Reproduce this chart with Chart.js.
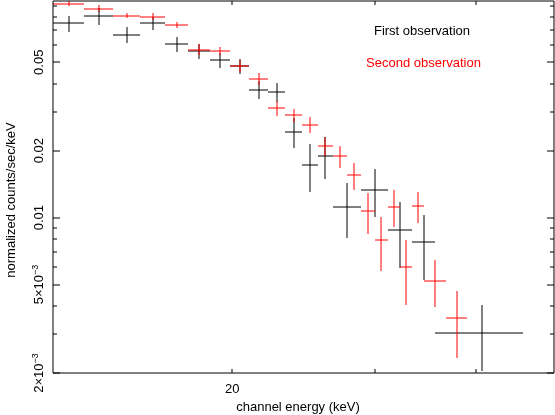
<!DOCTYPE html>
<html>
<head>
<meta charset="utf-8">
<script src="https://cdn.jsdelivr.net/npm/chart.js@4.4.0/dist/chart.umd.min.js"></script>
<style>
  html, body { margin: 0; padding: 0; background: #fff; }
</style>
</head>
<body>
<canvas id="spec" width="555" height="415"></canvas>
<script>
// channel bin edges (keV), rate and 1-sigma error for each observation
const firstEdges = [12, 13.125, 14.25, 15.375, 16.5, 17.625, 18.75, 19.875, 21, 22.125,
  23.25, 24.375, 25.5, 26.625, 28.875, 31.125, 33.375, 35.625, 45.75];
const firstRate = [0.0747, 0.0805, 0.0665, 0.0747, 0.0602, 0.0560, 0.0510, 0.0480, 0.0377,
  0.0368, 0.0243, 0.0172, 0.0190, 0.0112, 0.0133, 0.00884, 0.00775, 0.00304];
const firstErr = [0.0060, 0.0072, 0.0052, 0.0049, 0.0045, 0.0043, 0.0039, 0.0037, 0.0034,
  0.0037, 0.0037, 0.0042, 0.0041, 0.0031, 0.0032, 0.0029, 0.0025, 0.0010];

const secondEdges = [12, 13.125, 14.25, 15.375, 16.5, 17.625, 18.75, 19.875, 21, 22.125,
  23.25, 24.375, 25.5, 26.625, 27.75, 28.875, 30, 31.125, 32.25, 33.375, 34.5, 36.75, 39];
const secondRate = [0.0918, 0.0872, 0.0811, 0.0803, 0.0736, 0.0569, 0.0562, 0.0481, 0.0422,
  0.0311, 0.0289, 0.0262, 0.0210, 0.0189, 0.0155, 0.0107, 0.0079, 0.0112, 0.0060, 0.0113,
  0.0052, 0.00352];
const secondErr = [0.0026, 0.0030, 0.0023, 0.0028, 0.0025, 0.0032, 0.0024, 0.0030, 0.0025,
  0.0023, 0.0020, 0.0022, 0.0020, 0.0022, 0.0022, 0.00225, 0.00217, 0.0021, 0.00197, 0.0018,
  0.00123, 0.00118];

// axis ticks
const xTicks = [20, 30, 40];
const xTickLabels = [[20, "20"]];
const yTicks = [0.002, 0.003, 0.004, 0.005, 0.006, 0.007, 0.008, 0.009,
  0.01, 0.02, 0.03, 0.04, 0.05, 0.06, 0.07, 0.08, 0.09];
const yTickLabels = [[0.05, "0.05", ""], [0.02, "0.02", ""], [0.01, "0.01", ""],
  [0.005, "5×10", "−3"], [0.002, "2×10", "−3"]];

const FONT = '"Liberation Sans", Arial, sans-serif';

const series = [
  { label: "First observation", color: "#000000", edges: firstEdges, rate: firstRate, err: firstErr },
  { label: "Second observation", color: "#ff0000", edges: secondEdges, rate: secondRate, err: secondErr }
];

// bin centre (linear) for each channel
const toPoints = s => s.rate.map((r, i) => ({ x: (s.edges[i] + s.edges[i + 1]) / 2, y: r }));

// crosses: horizontal = channel width, vertical = error
const errorBars = {
  id: "errorBars",
  afterDatasetsDraw(chart) {
    const { ctx, chartArea: a, scales: { x, y } } = chart;
    ctx.save();
    ctx.beginPath();
    ctx.rect(a.left, a.top, a.right - a.left, a.bottom - a.top);
    ctx.clip();
    ctx.lineWidth = 1;
    series.forEach(s => {
      ctx.strokeStyle = s.color;
      s.rate.forEach((r, i) => {
        const x0 = Math.round(x.getPixelForValue(s.edges[i]));
        const x1 = Math.round(x.getPixelForValue(s.edges[i + 1]));
        const xc = Math.round(x.getPixelForValue((s.edges[i] + s.edges[i + 1]) / 2));
        const yc = Math.round(y.getPixelForValue(r));
        const yt = Math.round(y.getPixelForValue(r + s.err[i]));
        const yb = Math.round(y.getPixelForValue(Math.max(r - s.err[i], 1e-4)));
        ctx.beginPath();
        ctx.moveTo(x0, yc); ctx.lineTo(x1, yc);
        ctx.moveTo(xc, yt); ctx.lineTo(xc, yb);
        ctx.stroke();
      });
    });
    ctx.restore();
  }
};

// frame, inward ticks, labels and titles
const frame = {
  id: "frame",
  afterDraw(chart) {
    const { ctx, chartArea: a, scales: { x, y } } = chart;
    const L = Math.round(a.left), R = Math.round(a.right), T = Math.round(a.top), B = Math.round(a.bottom);
    ctx.save();
    ctx.strokeStyle = "#000";
    ctx.lineWidth = 1;
    ctx.beginPath();
    ctx.rect(L, T, R - L, B - T);
    ctx.stroke();

    const labelled = yTickLabels.map(l => l[0]);
    ctx.beginPath();
    yTicks.forEach(v => {
      const py = Math.round(y.getPixelForValue(v));
      const len = labelled.includes(v) ? 7 : 4;
      ctx.moveTo(L, py); ctx.lineTo(L + len, py);
      ctx.moveTo(R, py); ctx.lineTo(R - len, py);
    });
    xTicks.forEach(v => {
      const px = Math.round(x.getPixelForValue(v));
      ctx.moveTo(px, B); ctx.lineTo(px, B - 4);
      ctx.moveTo(px, T); ctx.lineTo(px, T + 4);
    });
    ctx.stroke();

    ctx.fillStyle = "#000";
    ctx.font = "13px " + FONT;

    // x tick labels
    ctx.textAlign = "center";
    ctx.textBaseline = "alphabetic";
    xTickLabels.forEach(([v, t]) => {
      ctx.fillText(t, x.getPixelForValue(v), 392.5);
    });

    // y tick labels, rotated
    yTickLabels.forEach(([v, base, exp]) => {
      const py = y.getPixelForValue(v);
      ctx.save();
      ctx.translate(43, py);
      ctx.rotate(-Math.PI / 2);
      ctx.font = "13px " + FONT;
      const wb = ctx.measureText(base).width;
      ctx.font = "9px " + FONT;
      const we = exp ? ctx.measureText(exp).width : 0;
      const start = -(wb + we) / 2;
      ctx.textAlign = "left";
      ctx.font = "13px " + FONT;
      ctx.fillText(base, start, 0);
      if (exp) {
        ctx.font = "9px " + FONT;
        ctx.fillText(exp, start + wb, -5);
      }
      ctx.restore();
    });

    // axis titles
    ctx.font = "13px " + FONT;
    ctx.textAlign = "center";
    ctx.fillText("channel energy (keV)", 298, 410.5);
    ctx.save();
    ctx.translate(14.5, 200);
    ctx.rotate(-Math.PI / 2);
    ctx.fillText("normalized counts/sec/keV", 0, 0);
    ctx.restore();

    // observation labels
    ctx.fillStyle = series[0].color;
    ctx.fillText(series[0].label, 422, 34.5);
    ctx.fillStyle = series[1].color;
    ctx.fillText(series[1].label, 423.5, 67);
    ctx.restore();
  }
};

new Chart(document.getElementById("spec").getContext("2d"), {
  type: "scatter",
  data: {
    datasets: series.map(s => ({
      label: s.label,
      data: toPoints(s),
      borderColor: s.color,
      backgroundColor: s.color,
      pointRadius: 0,
      showLine: false
    }))
  },
  options: {
    responsive: false,
    animation: false,
    layout: { padding: { top: 1, right: 1, left: 0, bottom: 0 } },
    plugins: {
      legend: { display: false },
      tooltip: { enabled: false }
    },
    scales: {
      x: {
        type: "logarithmic",
        min: 12,
        max: 50,
        afterFit: s => { s.height = 42; },
        ticks: { display: false },
        grid: { display: false },
        border: { display: false }
      },
      y: {
        type: "logarithmic",
        min: 0.002,
        max: 0.0943,
        afterFit: s => { s.width = 53; },
        ticks: { display: false },
        grid: { display: false },
        border: { display: false }
      }
    }
  },
  plugins: [errorBars, frame]
});
</script>
</body>
</html>
